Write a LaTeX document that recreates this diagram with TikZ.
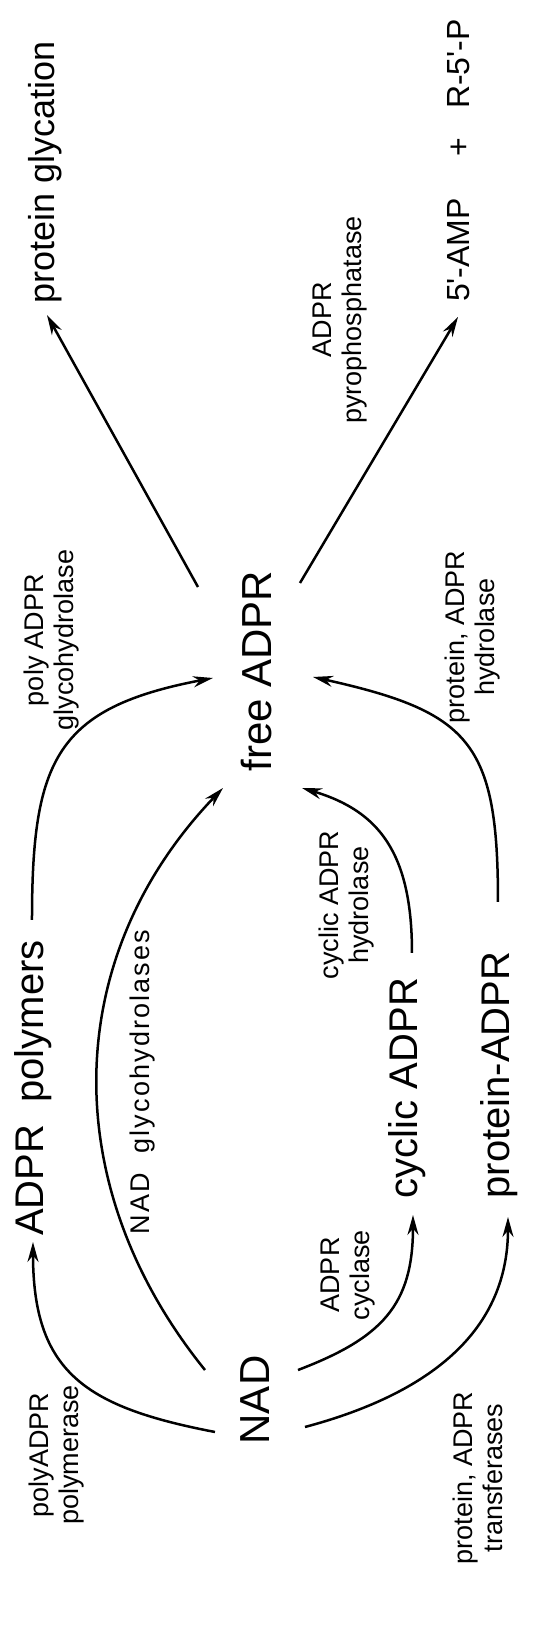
\documentclass[tikz,border=0pt]{standalone}
\usepackage{fontspec}
\setmainfont{Liberation Sans}
\usetikzlibrary{calc,arrows.meta}

\tikzset{
  big/.style={font=\fontsize{40}{46}\selectfont, anchor=base, inner sep=0pt},
  enz/.style={font=\fontsize{27}{30}\selectfont, align=center, inner sep=0pt},
  flow/.style={line width=2.5pt, -{Stealth[length=20pt,width=11pt]}}
}

\begin{document}
\begin{tikzpicture}[x=1pt,y=1pt,rotate=90,transform shape]
  \useasboundingbox (0,0) rectangle (1634,554);

  % metabolites
  \node[big,font=\fontsize{42}{48}\selectfont] (nad) at (234,284) {NAD};
  \node[big,font=\fontsize{42}{48}\selectfont] (free) at (963,282) {free ADPR};
  \node[big] (poly) at (546,510) {ADPR\ \ polymers};
  \node[big] (cyc) at (546,136) {cyclic ADPR};
  \node[big] (prot) at (559,44) {protein-ADPR};
  \node[big,font=\fontsize{36}{42}\selectfont] (glyc) at (1462,499) {protein glycation};
  \node[big,font=\fontsize{32}{38}\selectfont] (amp) at (1384,84) {5\textquotesingle-AMP};
  \node[big,font=\fontsize{32}{38}\selectfont] (plus) at (1487,84) {+};
  \node[big,font=\fontsize{32}{38}\selectfont] (rp) at (1570,84) {R-5\textquotesingle-P};

  % enzymes
  \node[enz] (polymerase) at (179,497) {polyADPR\\polymerase};
  \node[enz,font=\fontsize{27}{30}\selectfont\addfontfeature{LetterSpace=8}] (glycohyd) at (552,411) {NAD\ \ glycohydrolases};
  \node[enz] (cyclase) at (359,206) {ADPR\\cyclase};
  \node[enz] (transf) at (156,76) {protein,\ ADPR\\transferases};
  \node[enz] (polyhyd) at (994,502) {poly ADPR\\glycohydrolase};
  \node[enz] (cychyd) at (729,207) {cyclic ADPR\\hydrolase};
  \node[enz] (prothyd) at (997,81) {protein,\ ADPR\\hydrolase};
  \node[enz] (pyro) at (1314,214) {ADPR\\pyrophosphatase};

  % reactions
  \draw[flow] ($(nad.base)+(-32,55)$) .. controls +(25,130) and +(-130,0) .. ($(poly.base)+(-154,11)$);
  \draw[flow] ($(nad.base)+(30,65)$) .. controls +(183,148) and +(-170,163) .. ($(free.base)+(-117,49)$);
  \draw[flow] ($(nad.base)+(30,-28)$) .. controls +(32,-84) and +(-90,0) .. ($(cyc.base)+(-127,5)$);
  \draw[flow] ($(nad.base)+(-27,-35)$) .. controls +(31,-116) and +(-120,0) .. ($(prot.base)+(-142,2)$);
  \draw[flow] ($(poly.base)+(168,12)$) .. controls +(160,0) and +(-30,157) .. ($(free.base)+(-7,59)$);
  \draw[flow] ($(cyc.base)+(135,6)$) .. controls +(100,0) and +(-23,-77) .. ($(free.base)+(-117,-30)$);
  \draw[flow] ($(prot.base)+(173,12)$) .. controls +(160,0) and +(-35,-157) .. ($(free.base)+(-6,-41)$);
  \draw[flow] ($(free.base)+(84,74)$) -- ($(glyc.base)+(-143,8)$);
  \draw[flow] ($(free.base)+(88,-28)$) -- ($(amp.base)+(-67,12)$);
\end{tikzpicture}
\end{document}
